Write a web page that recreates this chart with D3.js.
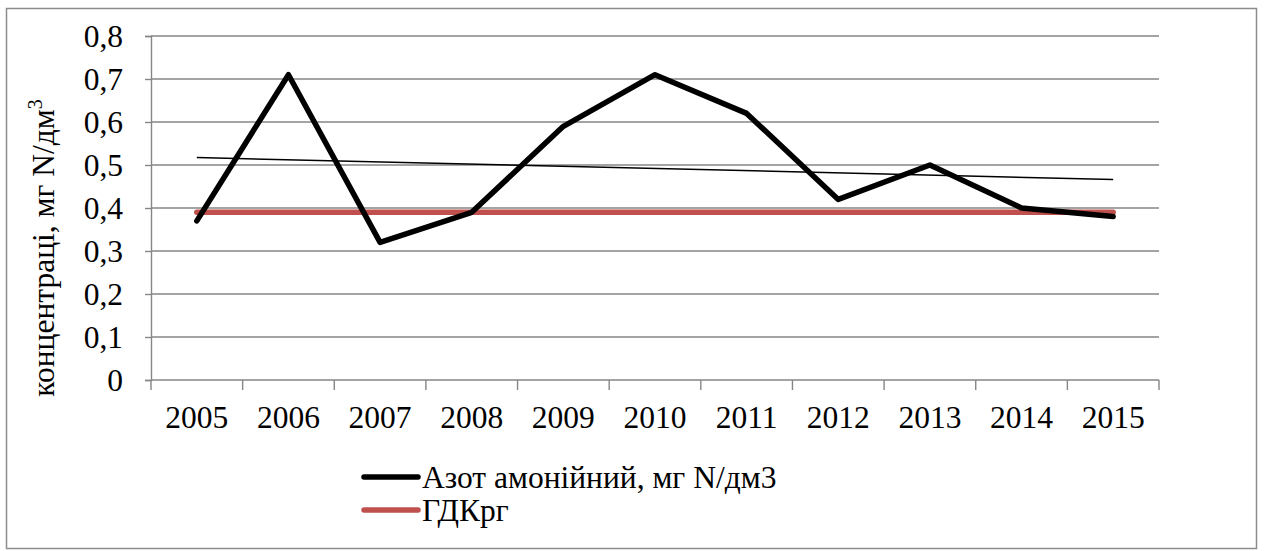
<!DOCTYPE html>
<html>
<head>
<meta charset="utf-8">
<script src="https://cdn.jsdelivr.net/npm/d3@7"></script>
<style>
  html, body { margin: 0; padding: 0; background: #fff; }
  svg text { font-family: "Liberation Serif", "Times New Roman", Times, "DejaVu Serif", serif; }
</style>
</head>
<body>
<svg id="chart" width="1264" height="551"></svg>
<script>
// Annual ammonium nitrogen concentration and the limit value
const years = ["2005", "2006", "2007", "2008", "2009", "2010", "2011", "2012", "2013", "2014", "2015"];
const ammonium = [0.37, 0.71, 0.32, 0.39, 0.59, 0.71, 0.62, 0.42, 0.50, 0.40, 0.38];
const limit = [0.39, 0.39, 0.39, 0.39, 0.39, 0.39, 0.39, 0.39, 0.39, 0.39, 0.39];
const yTicks = [0, 0.1, 0.2, 0.3, 0.4, 0.5, 0.6, 0.7, 0.8];
const seriesNames = ["Азот амонійний, мг N/дм3", "ГДКрг"];

const svg = d3.select("#chart");
const plot = { left: 151, right: 1159, top: 36, bottom: 380 };

const gridColor = "#868686";
const lineRed = "#C0504D";
const FONT = 31.5;

// outer chart frame
svg.append("rect")
  .attr("x", 6.5).attr("y", 8.5)
  .attr("width", 1250).attr("height", 540)
  .attr("fill", "#fff")
  .attr("stroke", "#8c8c8c").attr("stroke-width", 1.5);

const x = d3.scaleBand().domain(years).range([plot.left, plot.right]);
const xc = d => x(d) + x.bandwidth() / 2;
const y = d3.scaleLinear().domain([0, 0.8]).range([plot.bottom, plot.top]);

const fmt = v => d3.format(".1~f")(v).replace(".", ",");

// horizontal gridlines
svg.append("g").selectAll("line").data(yTicks.filter(v => v > 0)).join("line")
  .attr("x1", plot.left).attr("x2", plot.right)
  .attr("y1", d => y(d)).attr("y2", d => y(d))
  .attr("stroke", gridColor).attr("stroke-width", 1.4);

// y axis
const yAxis = d3.axisLeft(y).tickValues(yTicks).tickSize(6).tickFormat(fmt);
const gy = svg.append("g").attr("transform", `translate(${plot.left},0)`).call(yAxis)
  .attr("font-family", null).attr("font-size", null);
gy.select(".domain").attr("stroke", gridColor).attr("stroke-width", 1.4);
gy.selectAll(".tick line").attr("stroke", gridColor).attr("stroke-width", 1.4);
gy.selectAll(".tick text")
  .attr("x", -28).attr("dy", "0.34em")
  .attr("fill", "#000").style("font-size", FONT + "px");

// x axis with ticks at category boundaries
const gx = svg.append("g").attr("transform", `translate(0,${plot.bottom})`);
gx.append("line").attr("x1", plot.left).attr("x2", plot.right)
  .attr("stroke", gridColor).attr("stroke-width", 1.4);
const bounds = years.map(d => x(d)).concat([plot.right]);
gx.selectAll("line.tk").data(bounds).join("line").attr("class", "tk")
  .attr("x1", d => d).attr("x2", d => d).attr("y1", 0).attr("y2", 10)
  .attr("stroke", gridColor).attr("stroke-width", 1.4);
gx.selectAll("text").data(years).join("text")
  .attr("x", d => xc(d)).attr("y", 48)
  .attr("text-anchor", "middle").style("font-size", FONT + "px").attr("fill", "#000")
  .text(d => d);

// y axis title
const title = svg.append("text")
  .attr("transform", "translate(54,248) rotate(-90)")
  .attr("text-anchor", "middle").style("font-size", FONT + "px").attr("fill", "#000");
title.append("tspan").text("концентраці, мг N/дм");
title.append("tspan").attr("dy", -12).style("font-size", "20px").text("3");

const line = d3.line().x((d, i) => xc(years[i])).y(d => y(d));

// limit line
svg.append("path").datum(limit)
  .attr("d", line).attr("fill", "none")
  .attr("stroke", lineRed).attr("stroke-width", 5.5)
  .attr("stroke-linecap", "round");

// measured concentration
svg.append("path").datum(ammonium)
  .attr("d", line).attr("fill", "none")
  .attr("stroke", "#000").attr("stroke-width", 5.5)
  .attr("stroke-linejoin", "round").attr("stroke-linecap", "round");

// linear trend of the measured series (least squares)
const n = ammonium.length;
const idx = d3.range(n);
const mx = d3.mean(idx), my = d3.mean(ammonium);
const slope = d3.sum(idx, i => (i - mx) * (ammonium[i] - my)) / d3.sum(idx, i => (i - mx) ** 2);
const icpt = my - slope * mx;
svg.append("line")
  .attr("x1", xc(years[0])).attr("y1", y(icpt))
  .attr("x2", xc(years[n - 1])).attr("y2", y(icpt + slope * (n - 1)))
  .attr("stroke", "#000").attr("stroke-width", 1.5);

// legend
const legend = svg.append("g");
const legendItems = [
  { name: seriesNames[0], color: "#000", yy: 477 },
  { name: seriesNames[1], color: lineRed, yy: 510 }
];
legendItems.forEach(it => {
  legend.append("line")
    .attr("x1", 364).attr("x2", 418).attr("y1", it.yy).attr("y2", it.yy)
    .attr("stroke", it.color).attr("stroke-width", 5.5).attr("stroke-linecap", "round");
  legend.append("text")
    .attr("x", 422).attr("y", it.yy).attr("dy", "0.34em")
    .style("font-size", FONT + "px").attr("fill", "#000").text(it.name);
});
</script>
</body>
</html>
